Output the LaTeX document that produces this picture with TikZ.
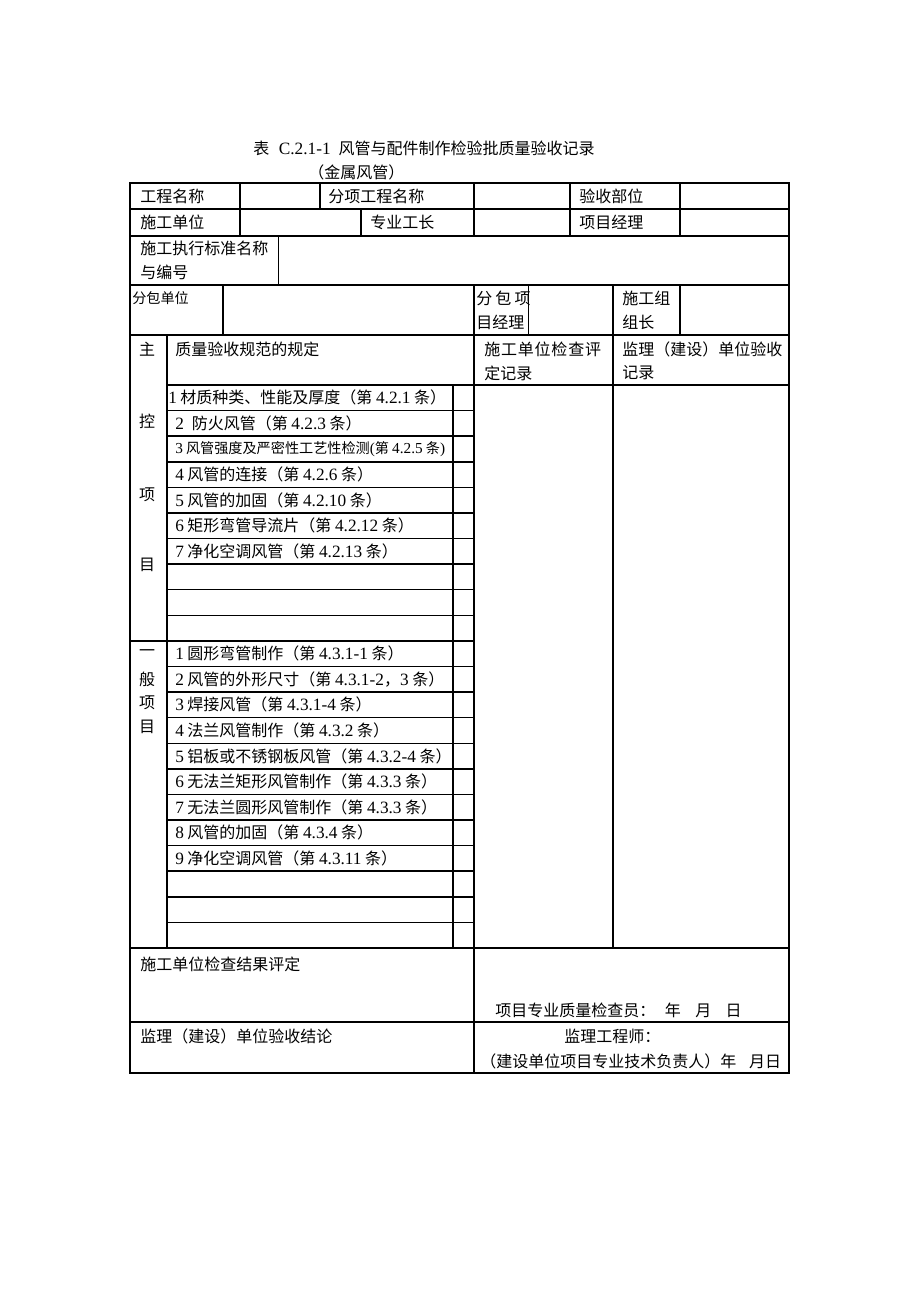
\documentclass[tikz,border=0pt]{standalone}
\usepackage{fontspec}
\setmainfont{Noto Sans CJK SC}
\newfontfamily\tnrfont[Scale=1.08]{Liberation Serif}
\newcommand\tnr[1]{{\tnrfont #1}}
\tikzset{
  grid/.style={line width=1.15pt, black},
  txt/.style={anchor=west, inner sep=0pt, font=\fontsize{12}{14}\selectfont},
  small/.style={anchor=west, inner sep=0pt, font=\fontsize{10.6}{12}\selectfont},
  ctr/.style={anchor=center, inner sep=0pt, font=\fontsize{12}{14}\selectfont},
}
\begin{document}
\begin{tikzpicture}[x=0.75pt,y=-0.75pt]
\useasboundingbox (0,0) rectangle (920,1302);
\fill[white] (0,0) rectangle (920,1302);
% outer frame
\draw[grid] (130,183) rectangle (789,1073);
% full-width horizontals
\foreach \yy in {209,236,285,335,948,1022} \draw[grid] (130,\yy) -- (789,\yy);
\draw[grid] (167,385) -- (789,385);
% item rows
\foreach \k in {1,...,21} {
  \pgfmathsetmacro\yy{385+25.59*\k}
  \ifnum\k=10 \draw[grid] (130,\yy) -- (474,\yy); \else \draw[grid] (167,\yy) -- (474,\yy); \fi
}
% verticals
\draw[grid] (240,183) -- (240,236);
\draw[grid] (320,183) -- (320,209);
\draw[grid] (361,209) -- (361,236);
\draw[grid] (474,183) -- (474,236);
\draw[grid] (474,285) -- (474,1073);
\draw[grid] (570,183) -- (570,236);
\draw[grid] (680,183) -- (680,236);
\draw[grid] (680,285) -- (680,335);
\draw[grid] (278.6,236) -- (278.6,285);
\draw[grid] (223,285) -- (223,335);
\draw[grid] (528.5,285) -- (528.5,335);
\draw[grid] (613,285) -- (613,948);
\draw[grid] (167,335) -- (167,948);
\draw[grid] (453,385) -- (453,948);
% title
\node[txt] (title) at (253,148) {表\hspace{0.6em}\tnr{C.2.1-1}\hspace{0.5em}风管与配件制作检验批质量验收记录};
\node[txt] (sub) at (308,172) {（金属风管）};
% row 1
\node[txt] (r1a) at (140,196) {工程名称};
\node[txt] (r1b) at (328,196) {分项工程名称};
\node[txt] (r1c) at (579,196) {验收部位};
% row 2
\node[txt] (r2a) at (140,222.5) {施工单位};
\node[txt] (r2b) at (370,222.5) {专业工长};
\node[txt] (r2c) at (579,222.5) {项目经理};
% row 3
\node[txt] (r3a) at (140,248) {施工执行标准名称};
\node[txt] (r3b) at (140,272) {与编号};
% row 4
\node[small] (r4a) at (132,298) {分包单位};
\node[txt] (r4b) at (476,298) {分\hspace{0.2em}包\hspace{0.2em}项};
\node[txt] (r4c) at (476,322) {目经理};
\node[txt] (r4d) at (622,298) {施工组};
\node[txt] (r4e) at (622,322) {组长};
% header
\node[ctr] (zhu) at (147,349) {主};
\node[txt] (hd1) at (175,349) {质量验收规范的规定};
\node[txt] (hd2) at (484,349) {施\hspace{0.05em}工\hspace{0.05em}单\hspace{0.05em}位\hspace{0.05em}检\hspace{0.05em}查\hspace{0.05em}评};
\node[txt] (hd3) at (484,373) {定记录};
\node[txt] (hd4) at (622,349) {监理（建设）单位验收};
\node[txt] (hd5) at (622,373) {记录};
% left column
\node[ctr] (kong) at (147,421.7) {控};
\node[ctr] (xiang1) at (147,495) {项};
\node[ctr] (mu1) at (147,565) {目};
\node[ctr] (yi) at (147,653.5) {一};
\node[ctr] (ban) at (147,679) {般};
\node[ctr] (xiang2) at (147,703) {项};
\node[ctr] (mu2) at (147,727) {目};
% main items
\node[txt] (m1) at (168,397.8) {\tnr{1} 材质种类、性能及厚度（第 \tnr{4.2.1} 条）};
\node[txt] (m2) at (175,423.4) {\tnr{2}\hspace{0.5em}防火风管（第 \tnr{4.2.3} 条）};
\node[small] (m3) at (175,449) {\tnr{3} 风管强度及严密性工艺性检测\tnr{(}第 \tnr{4.2.5} 条\tnr{)}};
\node[txt] (m4) at (175,474.6) {\tnr{4} 风管的连接（第 \tnr{4.2.6} 条）};
\node[txt] (m5) at (175,500.2) {\tnr{5} 风管的加固（第 \tnr{4.2.10} 条）};
\node[txt] (m6) at (175,525.8) {\tnr{6} 矩形弯管导流片（第 \tnr{4.2.12} 条）};
\node[txt] (m7) at (175,551.4) {\tnr{7} 净化空调风管（第 \tnr{4.2.13} 条）};
% general items
\node[txt] (g1) at (175,653.7) {\tnr{1} 圆形弯管制作（第 \tnr{4.3.1-1} 条）};
\node[txt] (g2) at (175,679.3) {\tnr{2} 风管的外形尺寸（第 \tnr{4.3.1-2}，\tnr{3} 条）};
\node[txt] (g3) at (175,704.9) {\tnr{3} 焊接风管（第 \tnr{4.3.1-4} 条）};
\node[txt] (g4) at (175,730.5) {\tnr{4} 法兰风管制作（第 \tnr{4.3.2} 条）};
\node[txt] (g5) at (175,756.1) {\tnr{5} 铝板或不锈钢板风管（第 \tnr{4.3.2-4} 条）};
\node[txt] (g6) at (175,781.7) {\tnr{6} 无法兰矩形风管制作（第 \tnr{4.3.3} 条）};
\node[txt] (g7) at (175,807.2) {\tnr{7} 无法兰圆形风管制作（第 \tnr{4.3.3} 条）};
\node[txt] (g8) at (175,832.8) {\tnr{8} 风管的加固（第 \tnr{4.3.4} 条）};
\node[txt] (g9) at (175,858.4) {\tnr{9} 净化空调风管（第 \tnr{4.3.11} 条）};
% bottom rows
\node[txt] (b1) at (140,964) {施工单位检查结果评定};
\node[txt] (b2) at (495,1010) {项目专业质量检查员：\hspace{0.6em}年\hspace{0.9em}月\hspace{0.9em}日};
\node[txt] (b3) at (140,1036) {监理（建设）单位验收结论};
\node[txt] (b4) at (564,1036) {监理工程师：};
\node[txt] (b5) at (480,1061) {（建设单位项目专业技术负责人）年\hspace{0.8em}月日};
\end{tikzpicture}
\end{document}
